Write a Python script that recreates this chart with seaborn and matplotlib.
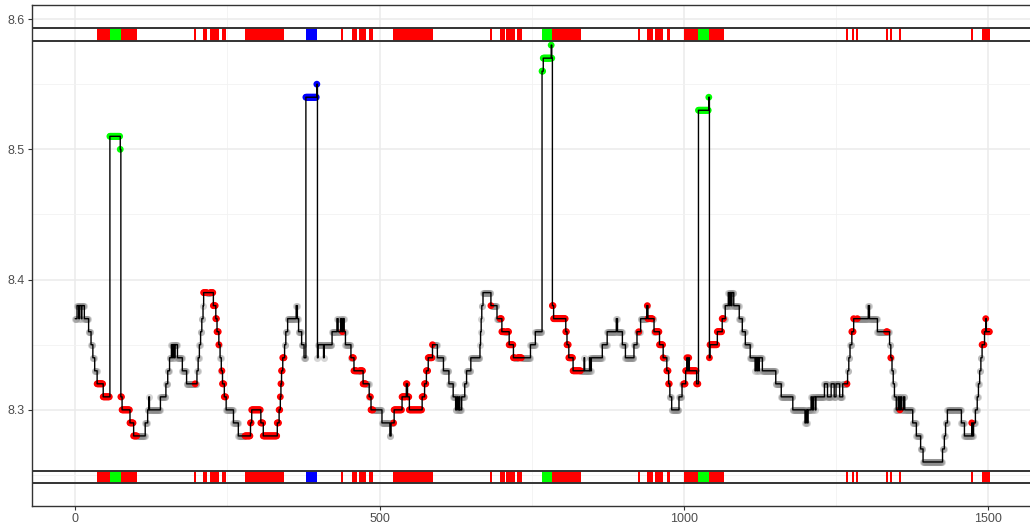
import numpy as np
import pandas as pd
import matplotlib
matplotlib.use("Agg")
import matplotlib.pyplot as plt
import seaborn as sns

# Step series: each level holds from its start index until the next change.
change_x = [
    0, 3, 6, 7, 10, 11, 15, 22, 26, 29, 32, 36, 46,
    57, 74,
    75, 77, 90, 96, 115, 119, 121, 122, 140, 149, 152, 155, 158, 160, 161, 163, 164, 168,
    176, 183, 200, 202, 204, 206, 208, 210, 211, 227, 231, 233, 236, 238, 240, 242, 245,
    248, 260, 268, 288, 290, 305, 309, 332, 335, 337, 338, 339, 341, 344, 346, 349, 363,
    365, 367, 372, 376,
    379, 397,
    398, 399, 408, 409, 422, 430, 432, 436, 438, 440, 442, 444, 453, 458, 473, 483, 486,
    504, 517, 519, 524, 537, 544, 546, 549, 570, 574, 577, 580, 587, 595, 605, 614, 621,
    625, 627, 629, 631, 632, 635, 640, 643, 650, 665, 666, 667, 668, 670, 683, 693, 701,
    713, 720, 748, 756,
    767, 769, 782, 783,
    784, 786, 806, 808, 811, 818, 836, 837, 845, 846, 848, 866, 874, 889, 891, 899, 904,
    918, 923, 929, 939, 941, 951, 960, 966, 972, 975, 977, 980, 992, 997, 1003, 1005,
    1006, 1008, 1009, 1021,
    1024, 1041,
    1042, 1043, 1055, 1063, 1068, 1073, 1075, 1076, 1078, 1079, 1082, 1091, 1096, 1101,
    1109, 1117, 1118, 1120, 1121, 1123, 1124, 1129, 1151, 1160, 1179, 1199, 1201, 1203,
    1204, 1209, 1211, 1213, 1216, 1217, 1231, 1236, 1242, 1247, 1250, 1256, 1261, 1269,
    1271, 1273, 1276, 1279, 1303, 1305, 1318, 1338, 1340, 1342, 1344, 1346, 1349, 1352,
    1354, 1356, 1358, 1361, 1363, 1376, 1382, 1389, 1393, 1425, 1428, 1430, 1433, 1456,
    1461, 1473, 1474, 1476, 1479, 1482, 1484, 1486, 1488, 1490, 1494, 1496, 1497,
]
change_level = [
    8.37, 8.38, 8.37, 8.38, 8.37, 8.38, 8.37, 8.36, 8.35, 8.34, 8.33, 8.32, 8.31,
    8.51, 8.50,
    8.31, 8.30, 8.29, 8.28, 8.29, 8.30, 8.31, 8.30, 8.31, 8.32, 8.33, 8.34, 8.35, 8.34, 8.35, 8.34, 8.35, 8.34,
    8.33, 8.32, 8.33, 8.34, 8.35, 8.36, 8.37, 8.38, 8.39, 8.38, 8.37, 8.36, 8.35, 8.34, 8.33, 8.32, 8.31,
    8.30, 8.29, 8.28, 8.29, 8.30, 8.29, 8.28, 8.29, 8.30, 8.31, 8.32, 8.33, 8.34, 8.35, 8.36, 8.37, 8.38,
    8.37, 8.36, 8.35, 8.34,
    8.54, 8.55,
    8.34, 8.35, 8.34, 8.35, 8.36, 8.37, 8.36, 8.37, 8.36, 8.37, 8.36, 8.35, 8.34, 8.33, 8.32, 8.31, 8.30,
    8.29, 8.28, 8.29, 8.30, 8.31, 8.32, 8.31, 8.30, 8.31, 8.32, 8.33, 8.34, 8.35, 8.34, 8.33, 8.32, 8.31,
    8.30, 8.31, 8.30, 8.31, 8.30, 8.31, 8.32, 8.33, 8.34, 8.35, 8.36, 8.37, 8.38, 8.39, 8.38, 8.37, 8.36,
    8.35, 8.34, 8.35, 8.36,
    8.56, 8.57, 8.58, 8.57,
    8.38, 8.37, 8.36, 8.35, 8.34, 8.33, 8.34, 8.33, 8.34, 8.33, 8.34, 8.35, 8.36, 8.37, 8.36, 8.35, 8.34,
    8.35, 8.36, 8.37, 8.38, 8.37, 8.36, 8.35, 8.34, 8.33, 8.32, 8.31, 8.30, 8.31, 8.32, 8.33, 8.34,
    8.33, 8.34, 8.33, 8.32,
    8.53, 8.54,
    8.34, 8.35, 8.36, 8.37, 8.38, 8.39, 8.38, 8.39, 8.38, 8.39, 8.38, 8.37, 8.36, 8.35,
    8.34, 8.33, 8.34, 8.33, 8.34, 8.33, 8.34, 8.33, 8.32, 8.31, 8.30, 8.29, 8.30, 8.29,
    8.30, 8.31, 8.30, 8.31, 8.30, 8.31, 8.32, 8.31, 8.32, 8.31, 8.32, 8.31, 8.32, 8.33,
    8.34, 8.35, 8.36, 8.37, 8.38, 8.37, 8.36, 8.35, 8.34, 8.33, 8.32, 8.31, 8.30, 8.31,
    8.30, 8.31, 8.30, 8.31, 8.30, 8.29, 8.28, 8.27, 8.26, 8.27, 8.28, 8.29, 8.30, 8.29,
    8.28, 8.29, 8.28, 8.29, 8.30, 8.31, 8.32, 8.33, 8.34, 8.35, 8.36, 8.37, 8.36,
]
last_x = 1502

# State intervals (inclusive index ranges); everything else is the neutral state.
red_spans = [
    (36, 56), (75, 101), (197, 197), (211, 216), (222, 236), (241, 247), (279, 343),
    (439, 439), (455, 462), (467, 477), (484, 489), (523, 587), (683, 683), (698, 705),
    (709, 722), (727, 733), (784, 830), (926, 926), (940, 948), (953, 966), (972, 976),
    (1000, 1023), (1042, 1065), (1268, 1268), (1276, 1279), (1285, 1285), (1333, 1334),
    (1340, 1340), (1355, 1355), (1473, 1473), (1490, 1502),
]
green_spans = [(57, 74), (767, 783), (1024, 1041)]
blue_spans = [(379, 397)]

x_ticks = [0, 500, 1000, 1500]
y_ticks = [8.3, 8.4, 8.5, 8.6]

# ---- build the frame ----
idx = np.arange(last_x + 1)
runs = np.diff(np.append(change_x, last_x + 1))
values = np.repeat(change_level, runs)

state = np.full(idx.size, "none", dtype=object)
for name, spans in (("red", red_spans), ("green", green_spans), ("blue", blue_spans)):
    for a, b in spans:
        state[a:b + 1] = name
df = pd.DataFrame({"x": idx, "value": values, "state": state})

palette = {"none": "#8c8c8c", "red": "#ff0000", "green": "#00ff00", "blue": "#0000ff"}

sns.set_theme(style="whitegrid")
plt.rcParams["font.family"] = ["Liberation Sans", "DejaVu Sans"]

fig = plt.figure(figsize=(10.30, 5.24), dpi=100)
ax = fig.add_axes([32 / 1030, 18 / 524, 1000 / 1030, 501 / 524])
ax.set_facecolor("white")

# neutral points (translucent halo) then state-coloured points
sns.scatterplot(data=df[df.state == "none"], x="x", y="value", color=palette["none"],
                alpha=0.35, s=26, linewidth=0, ax=ax, zorder=2, legend=False)
sns.scatterplot(data=df[df.state != "none"], x="x", y="value", hue="state",
                palette=palette, s=24, linewidth=0, ax=ax, zorder=3, legend=False)
sns.lineplot(data=df, x="x", y="value", color="black", linewidth=1.0,
             drawstyle="steps-post", estimator=None, sort=False, ax=ax, zorder=4)

# state strips along top and bottom
bands = [(8.5833, 8.5928), (8.2441, 8.2533)]
colored = df[df.state != "none"]
grp = ((colored.x.diff() != 1) | (colored.state != colored.state.shift())).cumsum()
for lo, hi in bands:
    # one rectangle per run of consecutive indices sharing a state
    for _, g in colored.groupby(grp):
        w = max(len(g), 3)
        ax.bar(g.x.iloc[0] - 0.5 - (w - len(g)) / 2, hi - lo, width=w, bottom=lo,
               align="edge", color=palette[g.state.iloc[0]], linewidth=0, zorder=5)
    for yy in (lo, hi):
        ax.axhline(yy, color="#333333", linewidth=1.4, zorder=6)

ax.set_xlim(-71, 1572)
ax.set_ylim(8.2262, 8.6108)
ax.set_xticks(x_ticks)
ax.set_xticklabels([str(t) for t in x_ticks])
ax.set_yticks(y_ticks)
ax.set_yticklabels([f"{t:.1f}" for t in y_ticks])
ax.set_xticks([250, 750, 1250], minor=True)
ax.set_yticks([8.25, 8.35, 8.45, 8.55], minor=True)
ax.grid(which="major", color="#ebebeb", linewidth=1.1)
ax.grid(which="minor", color="#f2f2f2", linewidth=0.6)
ax.set_axisbelow(True)
ax.set_xlabel("")
ax.set_ylabel("")

for sp in ax.spines.values():
    sp.set_color("#333333")
    sp.set_linewidth(1.0)
ax.tick_params(axis="both", which="major", length=3, width=0.8, color="#333333",
               labelsize=9, labelcolor="#4d4d4d", pad=2, bottom=True, left=True)
ax.tick_params(axis="both", which="minor", length=0)

fig.savefig("out.png", dpi=100, facecolor="white")
